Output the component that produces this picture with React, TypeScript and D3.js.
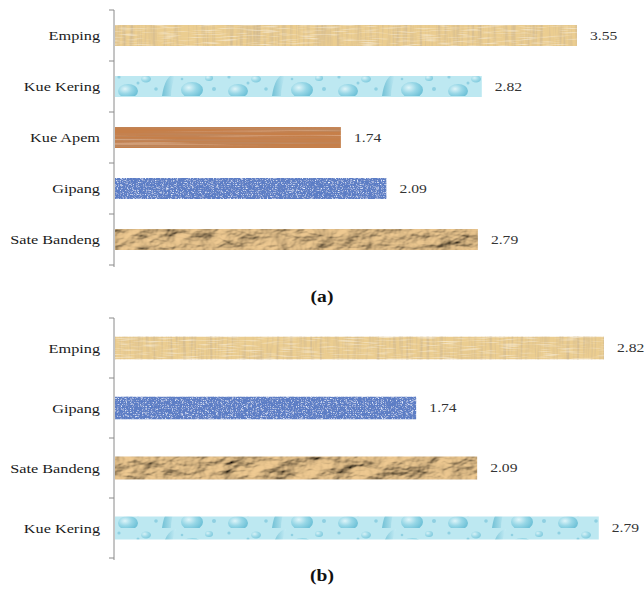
import React from "react";
import * as d3 from "d3";

const categoriesA = ["Emping", "Kue Kering", "Kue Apem", "Gipang", "Sate Bandeng"];
const valuesA = [3.55, 2.82, 1.74, 2.09, 2.79];
const categoriesB = ["Emping", "Gipang", "Sate Bandeng", "Kue Kering"];
const valuesB = [2.82, 1.74, 2.09, 2.79];
const captions = ["(a)", "(b)"];

const SERIF = "Liberation Serif";
const STRETCH = 1.25;

const textureOf: Record<string, string> = {
  "Kue Kering": "url(#drops)",
};
const baseOf: Record<string, string> = {
  "Emping": "#ebcd90",
  "Kue Kering": "#b9e6f0",
  "Kue Apem": "#c67f49",
  "Gipang": "#5a7cc6",
  "Sate Bandeng": "#c19a68",
};
const filterOf: Record<string, string> = {
  "Emping": "url(#fPapyrus)",
  "Kue Apem": "url(#fWood)",
  "Gipang": "url(#fDenim)",
  "Sate Bandeng": "url(#fPaper)",
};

const AXIS_X = 114;

function SText({ x, y, anchor, size, weight, fill, children }: any) {
  return (
    <text
      transform={`translate(${x},${y}) scale(${STRETCH},1)`}
      dy="0.35em"
      textAnchor={anchor}
      fontSize={size}
      fontWeight={weight}
      fill={fill}
      style={{ fontFamily: SERIF }}
    >
      {children}
    </text>
  );
}

function Panel({ cats, vals, top, bottom, xMax, barH, caption, capY }: any) {
  const n = cats.length;
  const step = (bottom - top) / n;
  const pInner = 1 - barH / step;
  const y = d3.scaleBand<string>().domain(cats).range([top, bottom]).paddingInner(pInner).paddingOuter(pInner / 2);
  const x = d3.scaleLinear().domain([0, vals[0]]).range([AXIS_X, xMax]);
  const ticks = d3.range(n + 1).map((i) => top + i * step);
  return (
    <g>
      <line x1={AXIS_X} x2={AXIS_X} y1={top} y2={bottom + 2} stroke="#8a8a8a" strokeWidth={1} />
      {ticks.map((t, i) => (
        <line key={i} x1={AXIS_X - 5} x2={AXIS_X} y1={t} y2={t} stroke="#8a8a8a" strokeWidth={1} />
      ))}
      {cats.map((c: string, i: number) => {
        const y0 = y(c)!;
        const bw = y.bandwidth();
        const x1 = x(vals[i]);
        return (
          <g key={c}>
            <rect x={AXIS_X + 1} y={y0} width={x1 - AXIS_X - 1} height={bw} fill={textureOf[c] || baseOf[c]} filter={filterOf[c]} />
            <SText x={100} y={y0 + bw / 2} anchor="end" size={13} fill="#1a1a1a">{c}</SText>
            <SText x={x1 + 13} y={y0 + bw / 2} anchor="start" size={12.5} fill="#333">{vals[i].toFixed(2)}</SText>
          </g>
        );
      })}
      <text x={0} y={0} transform={`translate(322,${capY}) scale(1.15,1)`} textAnchor="middle" fontWeight="bold" fontSize={17} fill="#111" style={{ fontFamily: SERIF }}>{caption}</text>
    </g>
  );
}

export default function App() {
  return (
    <svg width={644} height={593} style={{ position: "absolute", left: 0, top: 0, background: "#fff" }}>
      <defs>
        <filter id="fPapyrus" x="0" y="0" width="100%" height="100%">
          <feTurbulence type="fractalNoise" baseFrequency="0.3 0.02" numOctaves={3} seed={4} result="n" />
          <feColorMatrix in="n" type="matrix" values="0 0 0 0 0.66  0 0 0 0 0.5  0 0 0 0 0.28  2.4 0 0 0 -1.0" result="c" />
          <feTurbulence type="fractalNoise" baseFrequency="0.05 0.7" numOctaves={2} seed={9} result="n2" />
          <feColorMatrix in="n2" type="matrix" values="0 0 0 0 1  0 0 0 0 0.95  0 0 0 0 0.8  1.4 0 0 0 -0.7" result="c2" />
          <feMerge result="m">
            <feMergeNode in="SourceGraphic" />
            <feMergeNode in="c" />
            <feMergeNode in="c2" />
          </feMerge>
          <feComposite in="m" in2="SourceAlpha" operator="in" />
        </filter>
        <filter id="fWood" x="0" y="0" width="100%" height="100%">
          <feTurbulence type="fractalNoise" baseFrequency="0.004 0.4" numOctaves={3} seed={2} result="n" />
          <feColorMatrix in="n" type="matrix" values="0 0 0 0 0.5  0 0 0 0 0.25  0 0 0 0 0.12  2.5 0 0 0 -1.0" result="c" />
          <feColorMatrix in="n" type="matrix" values="0 0 0 0 0.9  0 0 0 0 0.64  0 0 0 0 0.44  0 -2.2 0 0 0.9" result="c2" />
          <feMerge result="m">
            <feMergeNode in="SourceGraphic" />
            <feMergeNode in="c" />
            <feMergeNode in="c2" />
          </feMerge>
          <feComposite in="m" in2="SourceAlpha" operator="in" />
        </filter>
        <filter id="fDenim" x="0" y="0" width="100%" height="100%">
          <feTurbulence type="turbulence" baseFrequency="0.8 0.5" numOctaves={2} seed={5} result="n" />
          <feColorMatrix in="n" type="matrix" values="0 0 0 0 0.8  0 0 0 0 0.87  0 0 0 0 1  2.4 0 0 0 -0.6" result="c" />
          <feTurbulence type="fractalNoise" baseFrequency="0.6" numOctaves={2} seed={11} result="n2" />
          <feColorMatrix in="n2" type="matrix" values="0 0 0 0 0.15  0 0 0 0 0.25  0 0 0 0 0.55  2.2 0 0 0 -0.95" result="c2" />
          <feMerge result="m">
            <feMergeNode in="SourceGraphic" />
            <feMergeNode in="c" />
            <feMergeNode in="c2" />
          </feMerge>
          <feComposite in="m" in2="SourceAlpha" operator="in" />
        </filter>
        <filter id="fPaper" x="0" y="0" width="100%" height="100%">
          <feTurbulence type="fractalNoise" baseFrequency="0.035 0.07" numOctaves={4} seed={7} result="n" />
          <feDiffuseLighting in="n" surfaceScale={6} diffuseConstant={1.1} lightingColor="#e6c28c" result="l">
            <feDistantLight azimuth={225} elevation={48} />
          </feDiffuseLighting>
          <feComposite in="l" in2="SourceAlpha" operator="in" />
        </filter>
        <radialGradient id="dropG" cx="0.35" cy="0.35" r="0.7">
          <stop offset="0" stopColor="#e8f8fb" />
          <stop offset="0.5" stopColor="#8fd3e4" />
          <stop offset="1" stopColor="#56b5cf" />
        </radialGradient>
        <linearGradient id="dropL" x1="0" y1="0" x2="1" y2="0">
          <stop offset="0" stopColor="#5fb7cf" />
          <stop offset="1" stopColor="#c9eef6" />
        </linearGradient>
        <pattern id="drops" patternUnits="userSpaceOnUse" width={110} height={24} x={AXIS_X}>
          <rect width={110} height={24} fill="#bde8f1" />
          <ellipse cx={14} cy={19} rx={10} ry={7} fill="url(#dropG)" opacity={0.8} />
          <ellipse cx={32} cy={7} rx={5} ry={3.5} fill="url(#dropG)" opacity={0.6} />
          <path d="M48 24 Q51 3 62 1 Q57 14 57 24 Z" fill="url(#dropL)" opacity={0.8} />
          <ellipse cx={78} cy={18} rx={11} ry={8} fill="url(#dropG)" opacity={0.8} />
          <ellipse cx={95} cy={6} rx={4} ry={3} fill="url(#dropG)" opacity={0.6} />
          <circle cx={24} cy={11} r={1.5} fill="#8fd0e2" />
          <circle cx={42} cy={17} r={1.8} fill="#8fd0e2" />
          <circle cx={100} cy={17} r={2} fill="#8fd0e2" />
          <circle cx={68} cy={7} r={1.3} fill="#8fd0e2" />
          <circle cx={5} cy={5} r={1.6} fill="#8fd0e2" />
        </pattern>
      </defs>
      <Panel cats={categoriesA} vals={valuesA} top={10} bottom={265} xMax={577} barH={21} caption={captions[0]} capY={302} />
      <Panel cats={categoriesB} vals={valuesB} top={318} bottom={558} xMax={604} barH={23} caption={captions[1]} capY={581} />
    </svg>
  );
}
